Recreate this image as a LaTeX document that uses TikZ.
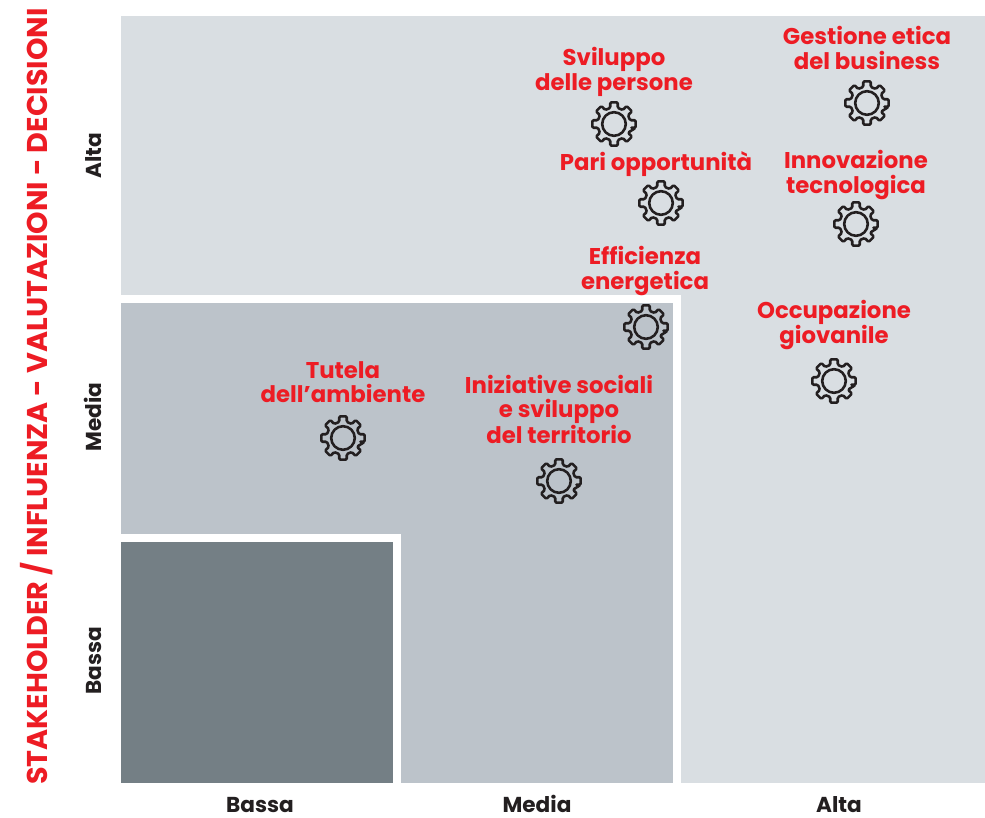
\documentclass[tikz,border=0pt]{standalone}
\usepackage{fontspec}
\setmainfont{Poppins}[UprightFont=* Bold,BoldFont=* Bold]
\definecolor{zonehigh}{HTML}{D9DEE2}
\definecolor{zonemid}{HTML}{BCC3CA}
\definecolor{zonelow}{HTML}{747F85}
\definecolor{redtxt}{HTML}{ED1C24}
\definecolor{ink}{HTML}{231F20}
\tikzset{
  x=1pt,y=-1pt,
  zone/.style={draw=none},
  topic/.style={text=redtxt,font=\fontsize{22.8}{24.2}\selectfont,align=center,inner sep=0pt},
  axislab/.style={text=ink,font=\fontsize{21.6}{24}\selectfont,inner sep=0pt,anchor=base},
  axistitle/.style={text=redtxt,font=\fontsize{28.6}{30}\selectfont,inner sep=0pt,rotate=90},
  gearline/.style={draw=ink,line width=2.6pt,line join=round},
  gear/.pic={
    \draw[gearline,rounded corners=1.3pt] (10:22)
      \foreach \a in {45,90,...,360}{
        -- (\a-13:16.5) -- (\a-10:22) -- (\a+10:22) -- (\a+13:16.5)
      } -- cycle;
    \draw[gearline] (0,0) circle[radius=11.8];
  }
}
\begin{document}
\begin{tikzpicture}
\useasboundingbox (0,0) rectangle (985,818);
\fill[white] (0,0) rectangle (985,818);
\fill[zone,zonehigh] (121,16) rectangle (985,783);
\fill[white] (121,295) rectangle (681,783);
\fill[zone,zonemid] (121,303) rectangle (673,783);
\fill[white] (121,534) rectangle (401,783);
\fill[zone,zonelow] (121,542) rectangle (393,783);

\node[axistitle] (title) at (37,396.5) {STAKEHOLDER / INFLUENZA - VALUTAZIONI - DECISIONI};
\node[axislab,rotate=90] (yalta) at (101,156) {Alta};
\node[axislab,rotate=90] (ymedia) at (101,417) {Media};
\node[axislab,rotate=90] (ybassa) at (101,661) {Bassa};
\node[axislab] (xbassa) at (260,812.5) {Bassa};
\node[axislab] (xmedia) at (537,812.5) {Media};
\node[axislab] (xalta) at (839,812.5) {Alta};

\node[topic] (t1) at (614,72) {Sviluppo\\delle persone};
\node[topic] (t2) at (867,48) {Gestione etica\\del business};
\node[topic] (t3) at (656,164) {Pari opportunità};
\node[topic] (t4) at (856,175) {Innovazione\\tecnologica};
\node[topic] (t5) at (645,271) {Efficienza\\energetica};
\node[topic] (t6) at (834,325) {Occupazione\\giovanile};
\node[topic] (t7) at (343,382) {Tutela\\dell’ambiente};
\node[topic] (t8) at (559,409.5) {Iniziative sociali\\e sviluppo\\del territorio};

\pic (g1) at (614,124) {gear};
\pic (g2) at (867,103) {gear};
\pic (g3) at (661,203) {gear};
\pic (g4) at (856,224) {gear};
\pic (g5) at (646,327) {gear};
\pic (g6) at (834,381) {gear};
\pic (g7) at (343,438) {gear};
\pic (g8) at (559,481) {gear};
\end{tikzpicture}
\end{document}
